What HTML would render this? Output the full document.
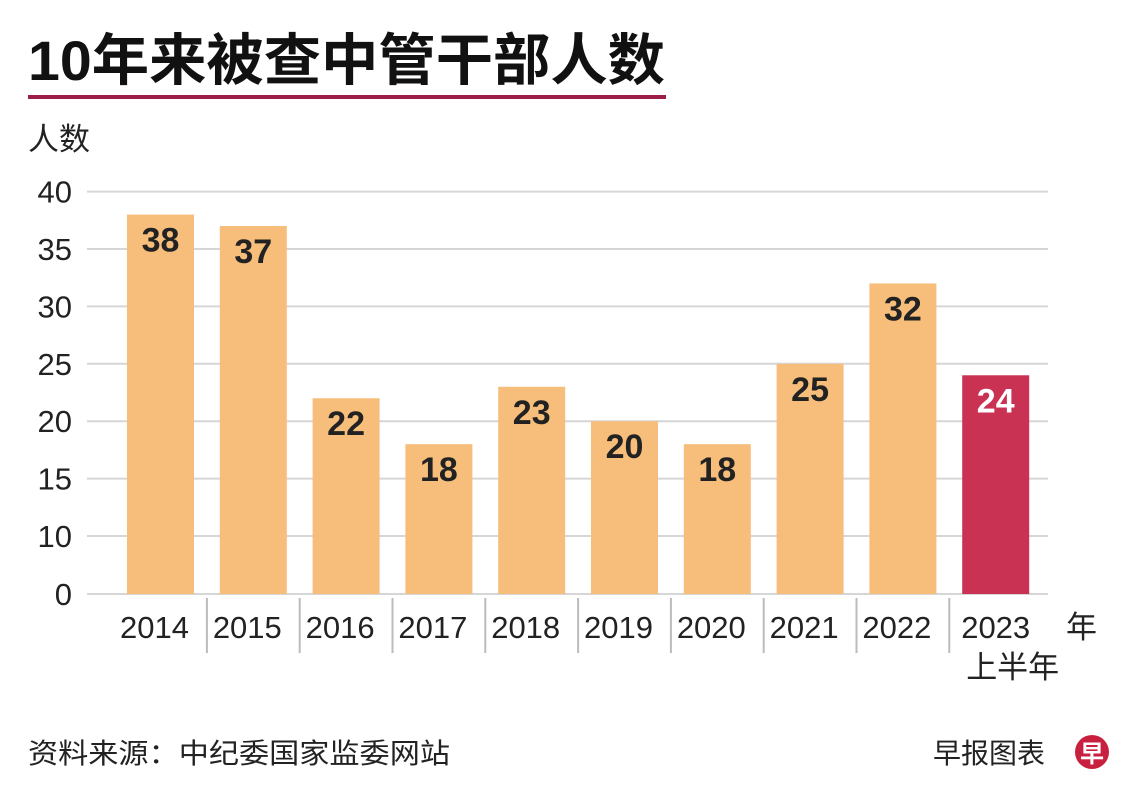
<!DOCTYPE html>
<html><head><meta charset="utf-8"><style>
html,body{margin:0;padding:0;background:#fff;}
svg{display:block;font-family:"Liberation Sans","Noto Sans CJK SC",sans-serif;}
</style></head><body>
<svg id="chart" width="1140" height="801" viewBox="0 0 1140 801" xmlns="http://www.w3.org/2000/svg">
<rect width="1140" height="801" fill="#fff"/>
<text x="28" y="80" font-size="56" font-weight="bold" fill="#111" textLength="637" lengthAdjust="spacingAndGlyphs" font-family="Liberation Sans, Noto Sans CJK SC, sans-serif">10年来被查中管干部人数</text>
<rect x="28" y="95" width="638" height="4" fill="#9b1d48"/>
<text x="28" y="150" font-size="31" fill="#222">人数</text>
<g id="grid"></g><g id="bars"></g><g id="xaxis"></g>
<text x="1066" y="638" font-size="31" fill="#222">年</text>
<text x="28" y="763" font-size="28" fill="#222" textLength="422" lengthAdjust="spacingAndGlyphs">资料来源：中纪委国家监委网站</text>
<text x="933" y="763" font-size="28" fill="#222">早报图表</text>
<circle cx="1092" cy="752" r="17" fill="#c8203f"/>
<text x="1092" y="762" font-size="24" font-weight="bold" fill="#fff" text-anchor="middle">早</text>
</svg>
<script>
const categories=["2014","2015","2016","2017","2018","2019","2020","2021","2022","2023"];
const values=[38,37,22,18,23,20,18,25,32,24];
const yTicks=[0,10,15,20,25,30,35,40];
const NS="http://www.w3.org/2000/svg";
function y(v){return v>=10?536-(v-10)*11.48:594-v*5.8;}
function xc(i){return 160.5+i*92.8;}
function mk(tag,attrs,parent,txt){const e=document.createElementNS(NS,tag);for(const k in attrs)e.setAttribute(k,attrs[k]);if(txt!==undefined)e.textContent=txt;parent.appendChild(e);return e;}
const grid=document.getElementById('grid'),bars=document.getElementById('bars'),xa=document.getElementById('xaxis');
yTicks.forEach(t=>{
  const l=mk('line',{x1:87,x2:1048,y1:y(t),y2:y(t),stroke:'#d6d6d6','stroke-width':2},grid);
  
  
  const tx=mk('text',{x:72,y:y(t)+11,'font-size':31,fill:'#222','text-anchor':'end'},grid,String(t));
  
  
});
categories.forEach((c,i)=>{
  const last=i===categories.length-1;
  const r=mk('rect',{x:xc(i)-33.5,y:y(values[i]),width:67,height:594-y(values[i]),fill:last?'#c93253':'#f7be7b'},bars);
  
  
  const v=mk('text',{x:xc(i),y:y(values[i])+37,'font-size':34,'font-weight':'bold',fill:last?'#fff':'#222','text-anchor':'middle'},bars,String(values[i]));
  
  
  const xl=mk('text',{x:xc(i)+(last?0:-6),y:638,'font-size':31,fill:'#222','text-anchor':'middle'},xa,c);
  
  
  if(i>0){
    const s=mk('line',{x1:xc(i)-46.4,x2:xc(i)-46.4,y1:598,y2:653,stroke:'#bbb','stroke-width':2},xa);
    
    
  }
});
const sub=mk('text',{x:xc(9)+17,y:678,'font-size':31,fill:'#222','text-anchor':'middle'},xa,'上半年');


</script>
</body></html>
